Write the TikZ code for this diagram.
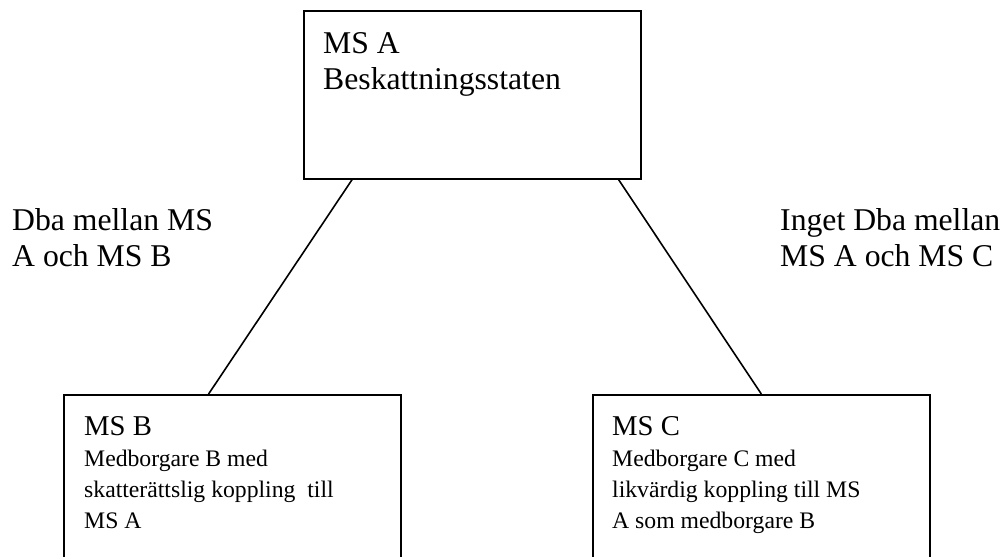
\documentclass[tikz,border=0pt]{standalone}
\usepackage{fontspec}
\setmainfont{Liberation Serif}
\usetikzlibrary{calc}

\tikzset{
  statebox/.style={draw, line width=1.6pt, rectangle, anchor=north west,
    minimum width=337pt, inner sep=0pt},
  bigtext/.style={anchor=north west, align=left, inner sep=0pt,
    font=\fontsize{31.7}{36}\selectfont},
  smalltext/.style={anchor=north west, align=left, inner sep=0pt,
    font=\fontsize{23.7}{31}\selectfont},
  link/.style={line width=1.6pt}
}

\begin{document}
\begin{tikzpicture}[x=1pt,y=-1pt]

		\useasboundingbox (0,0) rectangle (1002,557);

		% top box
		\node[statebox, minimum height=168pt] (msA) at (303,10) {};
		\node[bigtext] (msAtext) at ($(msA.north west)+(20,22)$) {MS A\\Beskattningsstaten};

		% bottom boxes
		\node[statebox, minimum height=175pt] (msB) at (63,394) {};
		\node[smalltext] (msBtext) at ($(msB.north west)+(21,22)$)
			{{\fontsize{28.7}{32}\selectfont MS B}\\Medborgare B med\\skatterättslig koppling\ \ till\\MS A};

		\node[statebox, minimum height=175pt] (msC) at (592,394) {};
		\node[smalltext] (msCtext) at ($(msC.north west)+(20,22)$)
			{{\fontsize{28.7}{32}\selectfont MS C}\\Medborgare C med\\likvärdig koppling till MS\\A som medborgare B};

		% connectors
		\draw[link] ($(msA.south west)!.145!(msA.south east)$) -- ($(msB.north west)!.43!(msB.north east)$);
		\draw[link] ($(msA.south west)!.932!(msA.south east)$) -- ($(msC.north west)!.5!(msC.north east)$);

		% side labels
		\node[bigtext] (dbaAB) at (12,208) {Dba mellan MS\\A och MS B};
		\node[bigtext] (dbaAC) at (780,208) {Inget Dba mellan\\MS A och MS C};

\end{tikzpicture}
\end{document}
